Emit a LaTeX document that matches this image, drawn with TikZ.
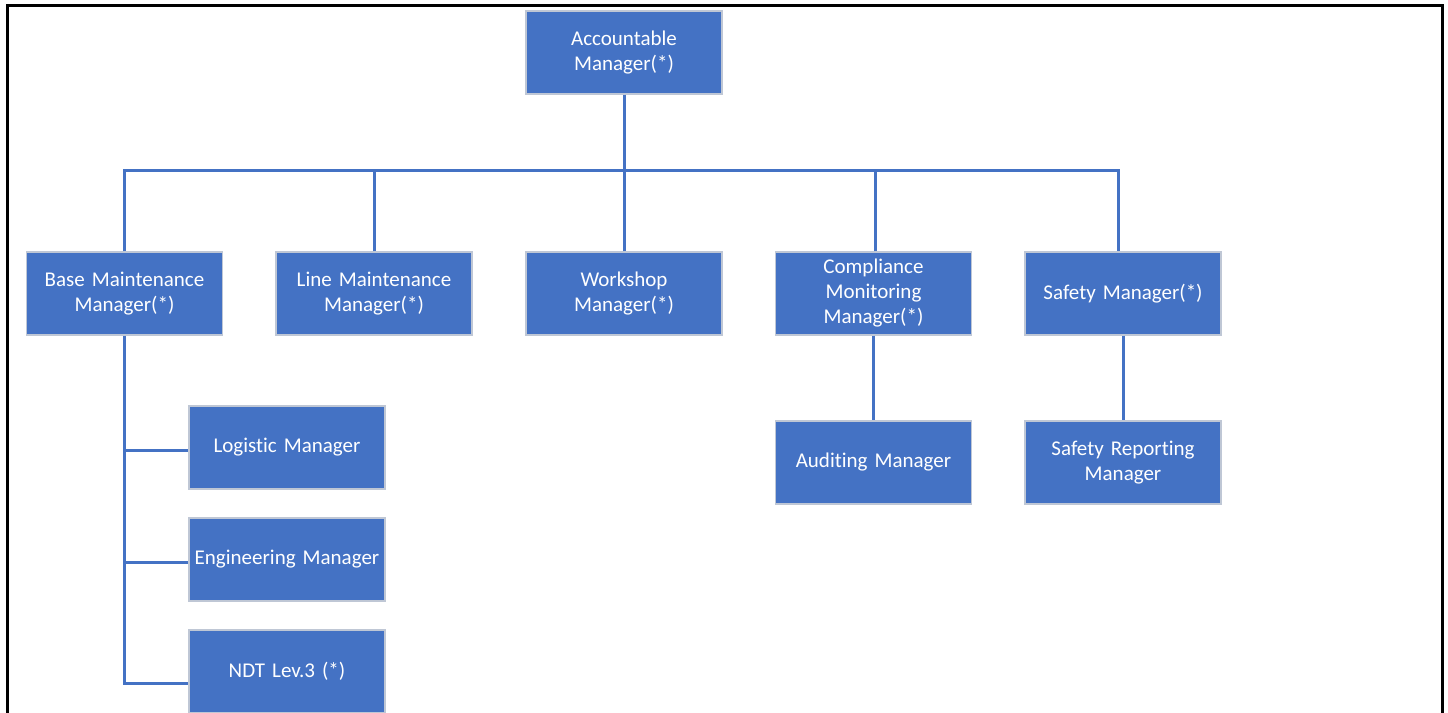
\documentclass[tikz,border=0pt]{standalone}
\usepackage{fontspec}
\setmainfont{Carlito}[Ligatures={NoCommon}]
\definecolor{boxblue}{HTML}{4472C4}
\definecolor{boxedge}{HTML}{BFC7D5}
\begin{document}
\begin{tikzpicture}[x=1pt,y=-1pt,
  box/.style={rectangle, fill=boxblue, draw=boxedge, line width=1.2pt,
    minimum width=196pt, minimum height=83pt, inner sep=2pt, text=white,
    align=center, text width=190pt, font=\fontsize{21}{25}\selectfont},
  link/.style={draw=boxblue, line width=3pt},
  frame/.style={draw=black, line width=3pt}]
\clip (0,0) rectangle (1448,712);
\fill[white] (0,0) rectangle (1448,712);
\draw[frame] (7,720) -- (7,5) -- (1442,5) -- (1442,720);

\node[box] (acc) at (624,52.5) {Accountable\\Manager(*)};
\node[box] (base) at (124.5,293.5) {Base Maintenance\\Manager(*)};
\node[box] (line) at (374,293.5) {Line Maintenance\\Manager(*)};
\node[box] (work) at (624,293.5) {Workshop\\Manager(*)};
\node[box] (comp) at (873.5,293.5) {Compliance\\Monitoring\\Manager(*)};
\node[box] (safe) at (1123,293.5) {Safety Manager(*)};
\node[box] (log) at (287,447.5) {Logistic Manager};
\node[box] (eng) at (287,559.5) {Engineering Manager};
\node[box] (ndt) at (287,671.5) {NDT Lev.3 (*)};
\node[box] (aud) at (873.5,462.5) {Auditing Manager};
\node[box] (srep) at (1123,462.5) {Safety Reporting\\Manager};

\coordinate (bus) at (624,170);
\coordinate (safetop) at (1118,170);
\coordinate (ndtjoin) at (124.5,683);
\draw[link] (acc.south) -- (bus);
\draw[link] (base.north) -- (base.north |- bus) -- (safetop) -- (safetop |- safe.north);
\draw[link] (line.north) -- (line.north |- bus);
\draw[link] (work.north) -- (bus);
\draw[link] ([xshift=2pt]comp.north) -- ([xshift=2pt]comp.north |- bus);
\draw[link] (base.south) -- (ndtjoin) -- (ndtjoin -| ndt.west);
\draw[link] (base.south |- 0,450) -- (log.west |- 0,450);
\draw[link] (base.south |- 0,562) -- (eng.west |- 0,562);
\draw[link] (comp.south) -- (aud.north);
\draw[link] (safe.south) -- (srep.north);
\end{tikzpicture}
\end{document}
